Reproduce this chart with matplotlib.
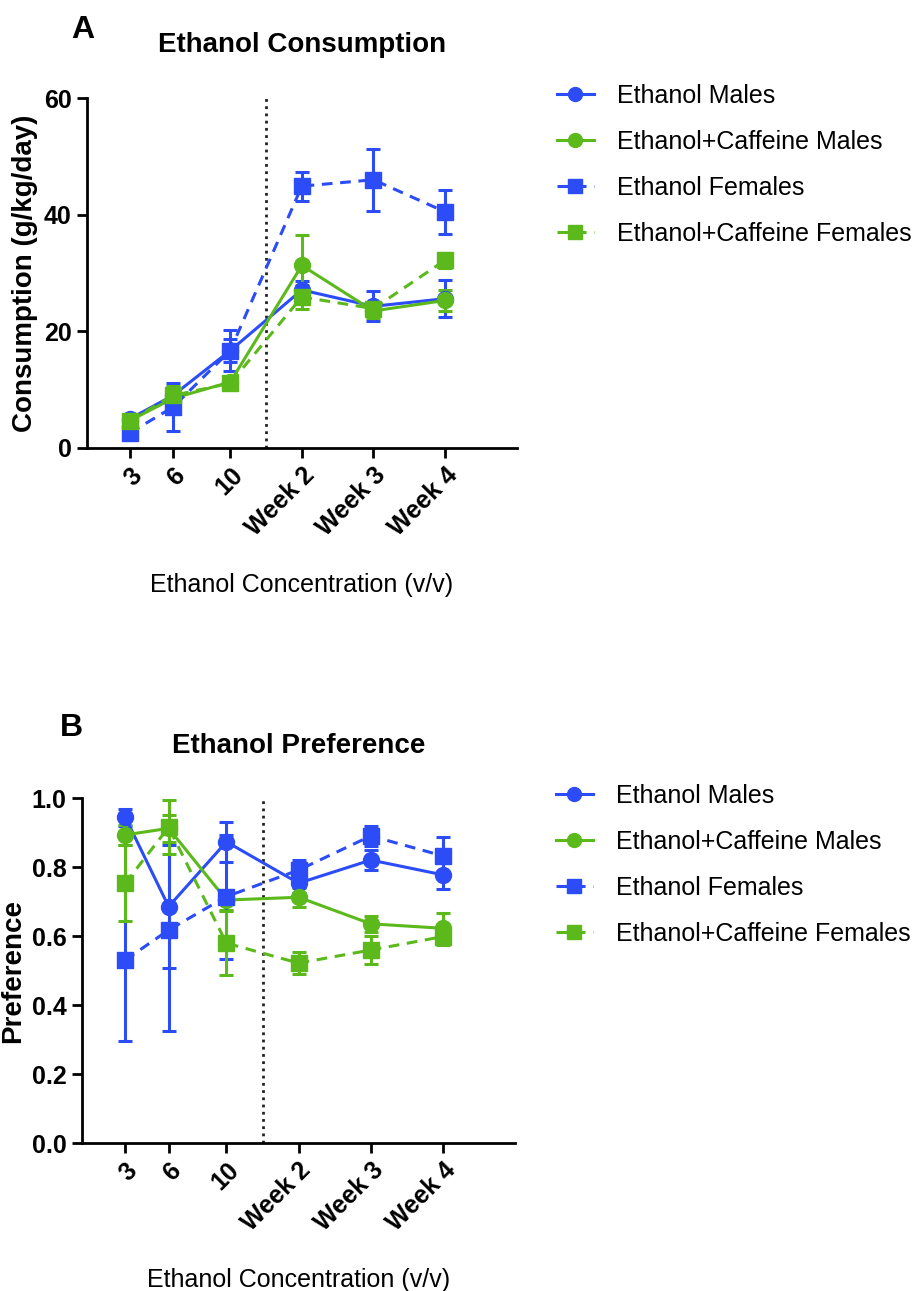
import matplotlib
matplotlib.use("Agg")
from matplotlib import pyplot as plt
from matplotlib.lines import Line2D

plt.rcParams['font.family'] = ['Liberation Sans', 'DejaVu Sans']

# x positions (concentration 3, 6, 10 % then weeks at 10 % ethanol)
x_pos = [3, 6, 10, 15, 20, 25]
x_labels = ['3', '6', '10', 'Week 2', 'Week 3', 'Week 4']
series_names = ['Ethanol Males', 'Ethanol+Caffeine Males',
                'Ethanol Females', 'Ethanol+Caffeine Females']

# panel A: consumption (g/kg/day), mean and sem
cons_etoh_m = [5.0, 9.0, 16.7, 27.1, 24.3, 25.6]
cons_etoh_m_err = [0.8, 1.5, 2.0, 1.6, 2.6, 3.2]
cons_caf_m = [4.7, 8.5, 11.3, 31.3, 23.5, 25.3]
cons_caf_m_err = [0.8, 1.0, 0.9, 5.2, 1.2, 1.8]
cons_etoh_f = [2.6, 7.0, 16.7, 44.9, 46.0, 40.5]
cons_etoh_f_err = [0.9, 4.1, 3.5, 2.5, 5.3, 3.8]
cons_caf_f = [4.7, 9.0, 11.1, 25.9, 23.9, 32.2]
cons_caf_f_err = [0.7, 1.6, 1.0, 2.1, 1.2, 1.3]

# panel B: preference
pref_etoh_m = [0.945, 0.686, 0.874, 0.754, 0.821, 0.778]
pref_etoh_m_err = [0.024, 0.178, 0.058, 0.03, 0.028, 0.041]
pref_caf_m = [0.894, 0.913, 0.705, 0.713, 0.636, 0.623]
pref_caf_m_err = [0.03, 0.04, 0.03, 0.028, 0.024, 0.044]
pref_etoh_f = [0.531, 0.618, 0.715, 0.792, 0.891, 0.833]
pref_etoh_f_err = [0.235, 0.294, 0.18, 0.03, 0.028, 0.056]
pref_caf_f = [0.754, 0.916, 0.58, 0.522, 0.560, 0.599]
pref_caf_f_err = [0.11, 0.078, 0.092, 0.033, 0.04, 0.024]

blue = '#2b4cf7'
green = '#5cb91c'
dash = (0, (3.5, 2.5))
styles = [
    dict(color=blue, marker='o', linestyle='-'),
    dict(color=green, marker='o', linestyle='-'),
    dict(color=blue, marker='s', linestyle=dash),
    dict(color=green, marker='s', linestyle=dash),
]


def draw_panel(ax, means, errs, ylim, yticks, ytick_labels, ylabel):
    handles = []
    for m, e, st, name in zip(means, errs, styles, series_names):
        ax.errorbar(x_pos, m, yerr=e, color=st['color'], marker=st['marker'],
                    linestyle=st['linestyle'], linewidth=2.2, markersize=11.5,
                    elinewidth=2.2, capsize=5, capthick=2.2,
                    clip_on=False, zorder=3)
        handles.append(Line2D([], [], color=st['color'], marker=st['marker'],
                              linestyle=st['linestyle'], linewidth=2.2,
                              markersize=10, label=name))
    ax.axvline(12.5, color='#222222', linestyle=(0, (1, 1.6)), linewidth=2, zorder=1)
    ax.set_xlim(0, 30)
    ax.set_ylim(*ylim)
    ax.set_yticks(yticks)
    ax.set_yticklabels(ytick_labels, fontsize=18, fontweight='bold')
    ax.set_xticks(x_pos)
    ax.set_xticklabels(x_labels, rotation=45, ha='right', rotation_mode='anchor',
                       fontsize=18, fontweight='bold')
    ax.spines['top'].set_visible(False)
    ax.spines['right'].set_visible(False)
    ax.spines['left'].set_linewidth(2)
    ax.spines['bottom'].set_linewidth(2)
    ax.tick_params(axis='both', direction='out', length=7, width=2, pad=4)
    ax.set_ylabel(ylabel, fontsize=20, fontweight='bold', labelpad=4)
    ax.set_xlabel('Ethanol Concentration (v/v)', fontsize=18, labelpad=23)
    ax.legend(handles=handles, loc='upper left', bbox_to_anchor=(1.07, 1.07),
              frameon=False, fontsize=18, handlelength=1.5, labelspacing=0.88,
              handletextpad=0.9, borderaxespad=0)


fig = plt.figure(figsize=(9.16, 12.91), dpi=100)

ax_a = fig.add_axes([0.095, 0.653, 0.469, 0.271])
draw_panel(ax_a, [cons_etoh_m, cons_caf_m, cons_etoh_f, cons_caf_f],
           [cons_etoh_m_err, cons_caf_m_err, cons_etoh_f_err, cons_caf_f_err],
           (0, 60), [0, 20, 40, 60], ['0', '20', '40', '60'],
           'Consumption (g/kg/day)')
ax_a.set_title('Ethanol Consumption', fontsize=20, fontweight='bold', pad=33)
fig.text(0.078, 0.977, 'A', fontsize=23, fontweight='bold', va='center')

ax_b = fig.add_axes([0.0895, 0.1146, 0.473, 0.267])
draw_panel(ax_b, [pref_etoh_m, pref_caf_m, pref_etoh_f, pref_caf_f],
           [pref_etoh_m_err, pref_caf_m_err, pref_etoh_f_err, pref_caf_f_err],
           (0, 1.0), [0, 0.2, 0.4, 0.6, 0.8, 1.0],
           ['0.0', '0.2', '0.4', '0.6', '0.8', '1.0'], 'Preference')
ax_b.set_title('Ethanol Preference', fontsize=20, fontweight='bold', pad=33)
fig.text(0.065, 0.436, 'B', fontsize=23, fontweight='bold', va='center')

fig.savefig('out.png', dpi=100)
